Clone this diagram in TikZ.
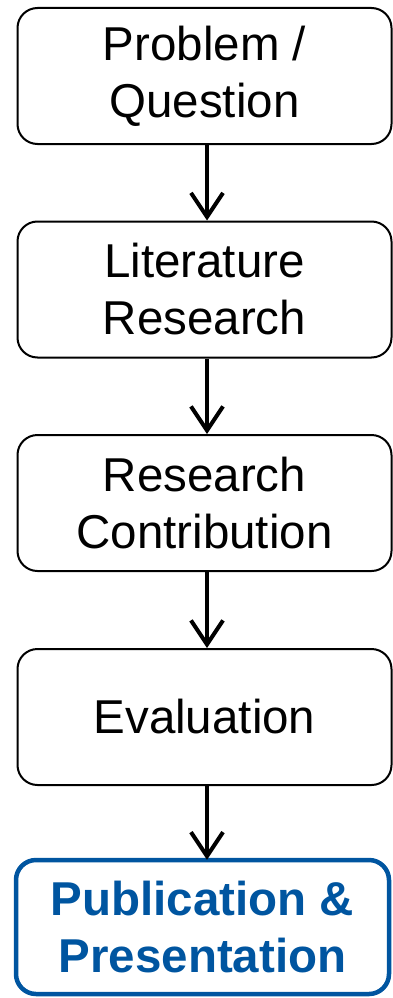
\documentclass[tikz,border=0pt]{standalone}
\usepackage{fontspec}
\setmainfont{Liberation Sans}
\usetikzlibrary{arrows.meta}
\definecolor{pubblue}{RGB}{0,85,160}
\begin{document}
\begin{tikzpicture}[x=1pt,y=-1pt,
  stepbox/.style={draw=black, line width=2pt, rounded corners=20pt, minimum width=374pt, minimum height=136pt, inner sep=0pt, align=center, font=\fontsize{47.5}{57}\selectfont},
  pubbox/.style={draw=pubblue, line width=4.5pt, rounded corners=20pt, minimum width=373pt, minimum height=134pt, inner sep=0pt, align=center, text=pubblue, font=\bfseries\fontsize{47.5}{57}\selectfont},
  flow/.style={line width=4pt, -{Straight Barb[length=24pt,width=32pt,line width=4pt]}}]
\useasboundingbox (0,0) rectangle (393,998);
\node[stepbox] (p) at (204.5,76) {Problem /\\Question};
\node[stepbox] (l) at (204.5,289.5) {Literature\\Research};
\node[stepbox] (r) at (204.5,503) {Research\\Contribution};
\node[stepbox] (e) at (204.5,717) {Evaluation};
\node[pubbox] (u) at (202.5,927) {Publication \&\\Presentation};
\draw[flow] (p.south -| 207,0) -- (l.north -| 207,0);
\draw[flow] (l.south -| 207,0) -- (r.north -| 207,0);
\draw[flow] (r.south -| 207,0) -- (e.north -| 207,0);
\draw[flow] (e.south -| 207,0) -- ([yshift=-2pt]u.north -| 207,0);
\end{tikzpicture}
\end{document}
